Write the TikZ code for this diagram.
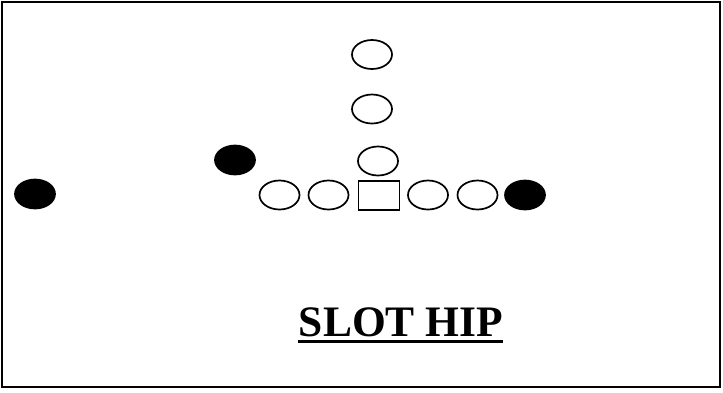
\documentclass[tikz,border=0pt]{standalone}
\usepackage{fontspec}
\setmainfont{Liberation Serif}
\usetikzlibrary{shapes.geometric}
\begin{document}
\begin{tikzpicture}[x=1pt,y=-1pt,
  player/.style={ellipse,draw,line width=1.7pt,minimum width=40pt,minimum height=29pt,inner sep=0pt},
  dplayer/.style={player,fill=black},
  center/.style={rectangle,draw,line width=1.7pt,minimum width=41pt,minimum height=29pt,inner sep=0pt}]
\useasboundingbox (0,0) rectangle (723,392);
\draw[line width=1.8pt] (2,2) rectangle (720,387);
\node[player] (b1) at (372,54.5) {};
\node[player] (b2) at (372,109) {};
\node[player] (qb) at (378,161) {};
\node[dplayer] (slot) at (235,160) {};
\node[dplayer] (wr) at (35,194) {};
\node[player] (lt) at (279.5,195) {};
\node[player] (lg) at (328.5,195) {};
\node[center] (c) at (379,195.5) {};
\node[player] (rg) at (428,195) {};
\node[player] (rt) at (477.5,195) {};
\node[dplayer] (te) at (525,195) {};
\node[anchor=base,font=\fontsize{43.5}{46}\selectfont\bfseries,inner sep=0pt] (title) at (401,336) {SLOT HIP};
\draw[line width=2.2pt] (298,341.5) -- (503,341.5);
\end{tikzpicture}
\end{document}
